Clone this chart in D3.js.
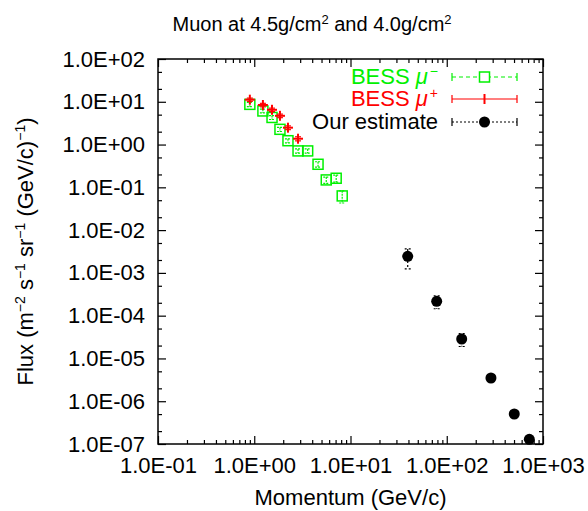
<!doctype html>
<html>
    <head>
        <title>Muon flux</title>
        <script src="https://d3js.org/d3.v7.min.js"></script>
        <style>
            body { margin: 0; background: #fff; }
            text { font-family: "Liberation Sans", Arial, Helvetica, sans-serif; }
        </style>
    </head>

    <body>
        <script>
            // BESS mu- data (momentum GeV/c, flux, error)
            var bessMinusP    = [0.90, 1.23, 1.53, 1.85, 2.24, 2.85, 3.59, 4.6, 5.6, 7.1, 8.2];
            var bessMinusFlux = [8.7, 6.1, 4.3, 2.27, 1.23, 0.71, 0.71, 0.346, 0.149, 0.163, 0.063];
            var bessMinusErr  = [1.0, 0.6, 0.45, 0.25, 0.13, 0.08, 0.08, 0.05, 0.025, 0.03, 0.02];

            // BESS mu+ data
            var bessPlusP    = [0.90, 1.23, 1.53, 1.85, 2.24, 2.85];
            var bessPlusFlux = [11.2, 8.4, 6.5, 4.7, 2.48, 1.37];
            var bessPlusErr  = [1.0, 0.8, 0.6, 0.45, 0.25, 0.15];

            // our estimate
            var estP    = [39.3, 78.6, 143, 288, 503, 721];
            var estFlux = [2.44e-3, 2.17e-4, 2.85e-5, 3.49e-6, 5.03e-7, 1.29e-7];
            var estErr  = [1.2e-3, 7.2e-5, 9.5e-6, 3e-7, 4e-8, 1e-8];

            var xTickExp = [-1, 0, 1, 2, 3];
            var yTickExp = [-7, -6, -5, -4, -3, -2, -1, 0, 1, 2];
            var legendLabels = ["BESS", "BESS", "Our estimate"];

            var width = 588, height = 511;
            var pLeft = 158, pRight = 543, pTop = 59, pBottom = 444;

            var green = "#00f000", red = "#ff0000";

            var svg = d3.select("body").append("svg")
                .attr("width", width)
                .attr("height", height);

            var x = d3.scaleLog().domain([0.1, 1000]).range([pLeft, pRight]);
            var y = d3.scaleLog().domain([1e-7, 100]).range([pBottom, pTop]);

            function fmt(e) {
                var s = Math.abs(e) < 10 ? "0" + Math.abs(e) : "" + Math.abs(e);
                return "1.0E" + (e < 0 ? "-" : "+") + s;
            }

            // minor tick values
            var xMinor = [], yMinor = [];
            xTickExp.slice(0, -1).forEach(function (e) {
                for (var k = 2; k <= 9; k++) xMinor.push(k * Math.pow(10, e));
            });
            yTickExp.slice(0, -1).forEach(function (e) {
                yMinor.push(2 * Math.pow(10, e));
                yMinor.push(5 * Math.pow(10, e));
            });
            var xMajor = xTickExp.map(function (e) { return Math.pow(10, e); });
            var yMajor = yTickExp.map(function (e) { return Math.pow(10, e); });

            function styleAxis(g) {
                g.select(".domain").remove();
                g.selectAll("line").attr("stroke", "#000").attr("stroke-width", 1.2);
                g.selectAll("text").attr("font-size", 22).attr("font-family", "Liberation Sans, Arial, sans-serif").attr("fill", "#000");
            }

            // bottom axis with labels
            svg.append("g").attr("transform", "translate(0," + pBottom + ")")
                .call(d3.axisBottom(x).tickValues(xMajor).tickSize(-8).tickPadding(13)
                    .tickFormat(function (d) { return fmt(Math.round(Math.log10(d))); }))
                .call(styleAxis);
            svg.append("g").attr("transform", "translate(0," + pBottom + ")")
                .call(d3.axisBottom(x).tickValues(xMinor).tickSize(-4).tickFormat(""))
                .call(styleAxis);
            // top mirror
            svg.append("g").attr("transform", "translate(0," + pTop + ")")
                .call(d3.axisTop(x).tickValues(xMajor).tickSize(-8).tickFormat(""))
                .call(styleAxis);
            svg.append("g").attr("transform", "translate(0," + pTop + ")")
                .call(d3.axisTop(x).tickValues(xMinor).tickSize(-4).tickFormat(""))
                .call(styleAxis);

            // left axis with labels
            svg.append("g").attr("transform", "translate(" + pLeft + ",0)")
                .call(d3.axisLeft(y).tickValues(yMajor).tickSize(-8).tickPadding(13)
                    .tickFormat(function (d) { return fmt(Math.round(Math.log10(d))); }))
                .call(styleAxis);
            svg.append("g").attr("transform", "translate(" + pLeft + ",0)")
                .call(d3.axisLeft(y).tickValues(yMinor).tickSize(-4).tickFormat(""))
                .call(styleAxis);
            // right mirror
            svg.append("g").attr("transform", "translate(" + pRight + ",0)")
                .call(d3.axisRight(y).tickValues(yMajor).tickSize(-8).tickFormat(""))
                .call(styleAxis);
            svg.append("g").attr("transform", "translate(" + pRight + ",0)")
                .call(d3.axisRight(y).tickValues(yMinor).tickSize(-4).tickFormat(""))
                .call(styleAxis);

            // frame
            svg.append("rect")
                .attr("x", pLeft).attr("y", pTop)
                .attr("width", pRight - pLeft).attr("height", pBottom - pTop)
                .attr("fill", "none").attr("stroke", "#000").attr("stroke-width", 1.5);

            // title
            var title = svg.append("text")
                .attr("x", 312).attr("y", 31)
                .attr("text-anchor", "middle")
                .attr("font-size", 20);
            title.append("tspan").text("Muon at 4.5g/cm");
            title.append("tspan").attr("font-size", 13).attr("dy", -7).text("2");
            title.append("tspan").attr("dy", 7).text(" and 4.0g/cm");
            title.append("tspan").attr("font-size", 13).attr("dy", -7).text("2");

            // x label
            svg.append("text")
                .attr("x", (pLeft + pRight) / 2).attr("y", 505)
                .attr("text-anchor", "middle")
                .attr("font-size", 22)
                .text("Momentum (GeV/c)");

            // y label
            var ylab = svg.append("text")
                .attr("transform", "translate(33," + ((pTop + pBottom) / 2) + ") rotate(-90)")
                .attr("text-anchor", "middle")
                .attr("font-size", 22);
            ylab.append("tspan").text("Flux (m");
            ylab.append("tspan").attr("font-size", 14).attr("dy", -8).text("\u22122");
            ylab.append("tspan").attr("dy", 8).text(" s");
            ylab.append("tspan").attr("font-size", 14).attr("dy", -8).text("\u22121");
            ylab.append("tspan").attr("dy", 8).text(" sr");
            ylab.append("tspan").attr("font-size", 14).attr("dy", -8).text("\u22121");
            ylab.append("tspan").attr("dy", 8).text(" (GeV/c)");
            ylab.append("tspan").attr("font-size", 14).attr("dy", -8).text("\u22121");
            ylab.append("tspan").attr("dy", 8).text(")");

            // error bar helper
            function errorBars(g, px, fy, err, color, dash) {
                var data = px.map(function (p, i) { return { p: p, f: fy[i], e: err[i] }; });
                var bars = g.selectAll(null).data(data).enter().append("g")
                    .attr("stroke", color).attr("stroke-width", 1.2)
                    .attr("stroke-dasharray", dash);
                bars.append("line")
                    .attr("x1", function (d) { return x(d.p); })
                    .attr("x2", function (d) { return x(d.p); })
                    .attr("y1", function (d) { return y(d.f + d.e); })
                    .attr("y2", function (d) { return y(Math.max(d.f - d.e, 1e-9)); });
                [1, -1].forEach(function (s) {
                    bars.append("line")
                        .attr("x1", function (d) { return x(d.p) - 3; })
                        .attr("x2", function (d) { return x(d.p) + 3; })
                        .attr("y1", function (d) { return y(s > 0 ? d.f + d.e : d.f - d.e); })
                        .attr("y2", function (d) { return y(s > 0 ? d.f + d.e : d.f - d.e); });
                });
            }

            var plot = svg.append("g");

            // BESS mu-
            errorBars(plot, bessMinusP, bessMinusFlux, bessMinusErr, green, "2,1");
            plot.selectAll(".sq").data(bessMinusP).enter().append("rect")
                .attr("x", function (d) { return x(d) - 5; })
                .attr("y", function (d, i) { return y(bessMinusFlux[i]) - 5; })
                .attr("width", 10).attr("height", 10)
                .attr("fill", "none").attr("stroke", green).attr("stroke-width", 1.5);

            // BESS mu+
            errorBars(plot, bessPlusP, bessPlusFlux, bessPlusErr, red, null);
            var plus = plot.selectAll(".pl").data(bessPlusP).enter().append("g")
                .attr("transform", function (d, i) { return "translate(" + x(d) + "," + y(bessPlusFlux[i]) + ")"; })
                .attr("stroke", red).attr("stroke-width", 2);
            plus.append("line").attr("x1", -5).attr("x2", 5);
            plus.append("line").attr("y1", -5).attr("y2", 5);

            // our estimate
            errorBars(plot, estP, estFlux, estErr, "#000", "2,2");
            plot.selectAll(".dot").data(estP).enter().append("circle")
                .attr("cx", function (d) { return x(d); })
                .attr("cy", function (d, i) { return y(estFlux[i]); })
                .attr("r", 5.5).attr("fill", "#000");

            // legend
            var legColors = [green, red, "#000"];
            var legDash = ["4,3", null, "2,2"];
            var legend = svg.selectAll(".legend").data(legendLabels).enter().append("g")
                .attr("transform", function (d, i) { return "translate(0," + [77, 99, 122][i] + ")"; });

            legend.each(function (d, i) {
                var g = d3.select(this);
                var t = g.append("text")
                    .attr("x", 438).attr("y", 7)
                    .attr("text-anchor", "end")
                    .attr("font-size", 22)
                    .attr("fill", legColors[i]);
                t.append("tspan").text(d);
                if (i < 2) {
                    t.append("tspan").text(" ");
                    t.append("tspan").attr("font-style", "italic").text("\u03bc");
                    t.append("tspan").attr("font-size", 14).attr("dx", 2).attr("dy", -8).text(i == 0 ? "\u2212" : "+");
                }
                var s = g.append("g").attr("stroke", legColors[i]).attr("stroke-width", 1.2);
                s.append("line").attr("x1", 452).attr("x2", 517).attr("stroke-dasharray", legDash[i]);
                s.append("line").attr("x1", 452).attr("x2", 452).attr("y1", -4).attr("y2", 4);
                s.append("line").attr("x1", 517).attr("x2", 517).attr("y1", -4).attr("y2", 4);
                if (i == 0) {
                    g.append("rect").attr("x", 479.5).attr("y", -5).attr("width", 10).attr("height", 10)
                        .attr("fill", "#fff").attr("stroke", green).attr("stroke-width", 1.5);
                } else if (i == 1) {
                    g.append("line").attr("x1", 484.5).attr("x2", 484.5).attr("y1", -5).attr("y2", 5)
                        .attr("stroke", red).attr("stroke-width", 2);
                } else {
                    g.append("circle").attr("cx", 484.5).attr("cy", 0).attr("r", 5.5).attr("fill", "#000");
                }
            });
        </script>
    </body>
</html>
